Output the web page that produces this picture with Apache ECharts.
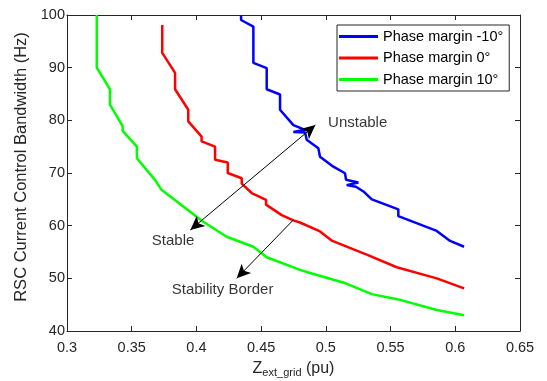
<!DOCTYPE html>
<html>
<head>
<meta charset="utf-8">
<script src="https://cdn.jsdelivr.net/npm/echarts@6/dist/echarts.min.js"></script>
<style>html,body{margin:0;padding:0;background:#fff}#c{width:547px;height:381px}</style>
</head>
<body>
<div id="c"></div>
<script>
// ---- data ----
var seriesNames = ['Phase margin -10°', 'Phase margin 0°', 'Phase margin 10°'];
var blueX = [0.4345,0.4345,0.444,0.444,0.4543,0.4543,0.4646,0.4646,0.4749,0.484,0.4749,0.484,0.4852,0.4942,0.4955,0.5058,0.5148,0.5156,0.5251,0.5161,0.5233,0.529,0.5355,0.556,0.556,0.5857,0.596,0.6068];
var blueY = [100,99.05,97.8,90.9,89.9,85.9,84.9,82,79.1,78.2,77.8,77.7,76.3,74.7,73.1,71.2,69.95,68.7,68.2,67.7,67.4,66.5,65,63.1,61.8,59,57.1,56];
var redX = [0.3736,0.3736,0.3835,0.3835,0.3937,0.3937,0.404,0.404,0.4144,0.4144,0.4242,0.4242,0.435,0.435,0.4427,0.4538,0.4538,0.4659,0.4749,0.48,0.4955,0.505,0.5316,0.5548,0.5857,0.6068];
var redY = [98.1,92.8,89,85.9,82,79.8,76.9,76,75,72.5,72,70,69,68,66.2,64.9,64,62,61,60.6,58.9,57.1,54.5,52.1,50,48.1];
var greenX = [0.323,0.323,0.3332,0.3332,0.343,0.343,0.354,0.354,0.368,0.373,0.405,0.4234,0.444,0.4543,0.48,0.4878,0.5148,0.5355,0.556,0.5857,0.6068];
var greenY = [100,90,85.9,83,78.9,78,75,72.8,68.7,66.8,60.8,57.9,56,54,51.6,51,49.1,47,46,44,43];
var xTicks = [0.3,0.35,0.4,0.45,0.5,0.55,0.6,0.65];
var yTicks = [40,50,60,70,80,90,100];
var arrowA = [[0.3953,59.2],[0.4919,79.1]];   // Stable <-> Unstable
var arrowB = [[0.4749,61.1],[0.4311,50.0]];   // Stability Border
var annText = ['Unstable','Stable','Stability Border'];
var annPos = [[0.5017,79.5],[0.3655,57.2],[0.3809,47.8]];

function pairs(xs, ys){ return xs.map(function(x,i){ return [x, ys[i]]; }); }

var FONT = 'Liberation Sans, Arial, sans-serif';
var AX = '#262626';
var chart = echarts.init(document.getElementById('c'), null, {renderer:'canvas'});
var colors = ['#0000ff','#ff0000','#00ff00'];
var datas = [pairs(blueX,blueY), pairs(redX,redY), pairs(greenX,greenY)];

var series = seriesNames.map(function(n,i){
  return {name:n, type:'line', data:datas[i], showSymbol:false, symbol:'none',
    lineStyle:{width:2.5, color:colors[i]}, itemStyle:{color:colors[i]}, z:3, animation:false};
});
series.push({
  type:'line', data:[], silent:true, animation:false,
  markLine:{silent:true, symbol:['arrow','arrow'], symbolSize:[10,14], animation:false,
    lineStyle:{color:'#000', width:1, type:'solid'}, itemStyle:{color:'#000'}, label:{show:false},
    data:[
      [{coord:arrowA[0]},{coord:arrowA[1]}],
      [{coord:arrowB[0], symbol:'none'},{coord:arrowB[1], symbol:'arrow'}]
    ]}
});
series.push({
  type:'scatter', symbolSize:0, silent:true, animation:false,
  data: annPos.map(function(p,i){ return {value:p, label:{show:true, position:'right', distance:0, formatter:annText[i], color:'#000', fontSize:15, fontFamily:FONT}}; })
});

var axisCommon = {
  axisLine:{show:true, lineStyle:{color:AX, width:1}},
  axisTick:{show:true, inside:true, length:5, lineStyle:{color:AX}},
  splitLine:{show:false}
};

chart.setOption({
  animation:false,
  textStyle:{fontFamily:FONT},
  grid:{left:67, right:27, top:15, bottom:50, containLabel:false, outerBoundsMode:'none'},
  legend:{
    data:seriesNames, orient:'vertical', left:337, top:25, width:173,
    backgroundColor:'#fff', borderColor:AX, borderWidth:1, padding:[4,6,4,2],
    itemWidth:39, itemHeight:3, itemGap:6.5, icon:'rect',
    textStyle:{fontSize:14.5, color:'#000', fontFamily:FONT, lineHeight:15}
  },
  xAxis:[
    Object.assign({type:'value', min:0.3, max:0.65, interval:0.05, position:'bottom',
      axisLabel:{color:AX, fontSize:14.5, margin:9, formatter:function(v){ return String(Math.round(v*100)/100); }},
      name:'{z|Z}{s|ext_grid}{z| (pu)}', nameLocation:'middle', nameGap:29,
      nameTextStyle:{rich:{z:{fontSize:16, color:AX, fontFamily:FONT, lineHeight:18}, s:{fontSize:11, color:AX, fontFamily:FONT, verticalAlign:'bottom', lineHeight:12, padding:[6,0,0,0]}}}
    }, axisCommon),
    Object.assign({type:'value', min:0.3, max:0.65, interval:0.05, position:'top', axisLabel:{show:false}}, axisCommon)
  ],
  yAxis:[
    Object.assign({type:'value', min:40, max:100, interval:10, position:'left',
      axisLabel:{color:AX, fontSize:14.5, margin:2},
      name:'RSC Current Control Bandwidth (Hz)', nameLocation:'middle', nameGap:26,
      nameTextStyle:{fontSize:16.5, color:AX, fontFamily:FONT, padding:[0,0,0,12]}
    }, axisCommon),
    Object.assign({type:'value', min:40, max:100, interval:10, position:'right', axisLabel:{show:false}}, axisCommon)
  ],
  series:series
});
</script>
</body>
</html>
